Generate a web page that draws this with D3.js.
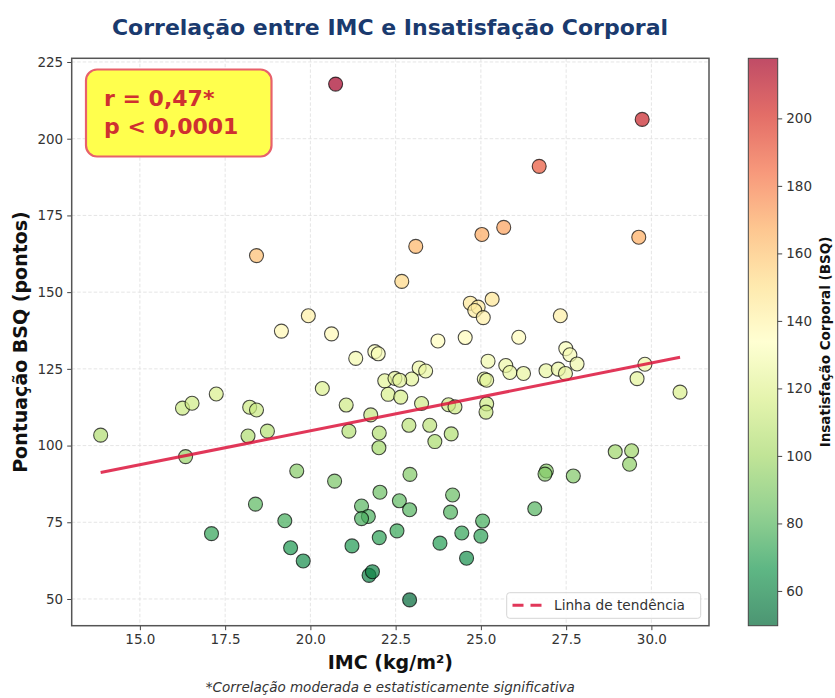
<!DOCTYPE html>
<html>
<head>
<meta charset="utf-8">
<script src="https://cdn.jsdelivr.net/npm/d3@7"></script>
<style>
  html, body { margin: 0; padding: 0; background: #fff; }
  svg { display: block; font-family: "DejaVu Sans", sans-serif; }
</style>
</head>
<body>
<svg id="chart" width="835" height="698"></svg>
<script>
// ---------------- DATA ----------------
const imc = [13.85,16.25,16.53,17.24,16.34,18.22,18.42,18.17,18.74,19.15,19.94,20.62,21.33,21.89,21.99,22.18,22.28,20.35,21.05,21.77,21.13,22.02,22.01,19.60,20.71,22.04,18.39,21.50,21.70,21.50,19.25,17.10,22.02,21.22,19.42,19.79,21.72,21.82,20.74,18.42,29.73,26.71,25.67,25.03,23.09,29.63,22.68,24.69,24.92,24.82,25.07,25.33,27.33,23.74,24.54,26.11,27.49,27.61,27.82,25.21,25.73,25.85,26.25,26.91,27.27,27.48,25.10,25.17,29.81,29.58,30.84,23.19,23.38,22.97,22.48,22.62,22.65,23.26,24.05,24.24,25.17,25.15,22.89,23.50,24.13,23.65,28.94,29.42,29.36,26.92,26.88,27.71,22.92,24.17,22.61,22.91,24.11,26.58,25.05,25.00,24.44,23.80,22.54,24.58,22.91];
const bsq = [103.4,112.2,113.8,116.8,96.4,112.5,111.6,103.1,104.7,137.3,142.3,136.4,128.4,130.6,129.9,121.1,116.7,118.6,113.2,110.0,104.7,104.1,99.3,91.7,88.4,84.8,80.9,80.3,76.9,76.2,75.5,71.3,70.0,67.3,66.7,62.4,57.7,58.9,217.8,161.9,206.3,191.0,171.1,168.8,164.9,167.9,153.5,146.4,145.1,144.0,141.7,147.7,142.3,134.1,135.2,135.3,131.6,129.6,126.6,127.5,126.1,123.8,123.5,124.4,124.9,123.5,121.7,121.3,126.5,121.8,117.4,125.3,124.3,121.7,121.9,121.3,115.8,113.7,113.3,112.6,113.6,110.9,106.6,106.6,103.8,101.3,98.0,98.3,93.9,91.7,90.7,90.1,90.6,83.9,82.0,79.1,78.3,79.4,75.4,70.5,71.5,68.2,72.2,63.3,49.7];
const xTickValues = [15, 17.5, 20, 22.5, 25, 27.5, 30];
const yTickValues = [50, 75, 100, 125, 150, 175, 200, 225];
const cbTickValues = [60, 80, 100, 120, 140, 160, 180, 200];
const trendSlope = 2.21;
const trendIntercept = 60.6;
const statLines = ["r = 0,47*", "p < 0,0001"];
const titleText = "Correlação entre IMC e Insatisfação Corporal";
const xLabelText = "IMC (kg/m²)";
const yLabelText = "Pontuação BSQ (pontos)";
const cbLabelText = "Insatisfação Corporal (BSQ)";
const legendText = "Linha de tendência";
const footnoteText = "*Correlação moderada e estatisticamente significativa";

// ---------------- LAYOUT ----------------
const svg = d3.select("#chart");
const L = 71.7, R = 709, T = 58.3, B = 625.7;
const cbL = 748.3, cbR = 777.7;

const data = imc.map((v, i) => ({ x: v, y: bsq[i] }));
const pad = (ext) => { const r = ext[1] - ext[0]; return [ext[0] - 0.05 * r, ext[1] + 0.05 * r]; };
const x = d3.scaleLinear().domain(pad(d3.extent(imc))).range([L, R]);
const y = d3.scaleLinear().domain(pad(d3.extent(bsq))).range([B, T]);

// RdYlGn_r colormap (matplotlib-like linear segments)
const rdylgn = d3.piecewise(d3.interpolateRgb, d3.schemeRdYlGn[11]);
const cExt = d3.extent(bsq);
const cNorm = d3.scaleLinear().domain(cExt).range([0, 1]).clamp(true);
const color = v => rdylgn(1 - cNorm(v));

// grid
const grid = svg.append("g");
grid.selectAll("line.gx").data(xTickValues).join("line")
  .attr("x1", d => x(d)).attr("x2", d => x(d)).attr("y1", T).attr("y2", B)
  .attr("stroke", "#e2e2e2").attr("stroke-width", 0.9).attr("stroke-dasharray", "3.5,2");
grid.selectAll("line.gy").data(yTickValues).join("line")
  .attr("y1", d => y(d)).attr("y2", d => y(d)).attr("x1", L).attr("x2", R)
  .attr("stroke", "#e2e2e2").attr("stroke-width", 0.9).attr("stroke-dasharray", "3.5,2");

// axes
const xAxis = d3.axisBottom(x).tickValues(xTickValues).tickFormat(d3.format(".1f")).tickSize(4.5).tickPadding(4);
const yAxis = d3.axisLeft(y).tickValues(yTickValues).tickFormat(d3.format("d")).tickSize(4.5).tickPadding(4);
const gx = svg.append("g").attr("transform", `translate(0,${B})`).call(xAxis);
const gy = svg.append("g").attr("transform", `translate(${L},0)`).call(yAxis);
[gx, gy].forEach(g => {
  g.select(".domain").remove();
  g.selectAll(".tick line").attr("stroke", "#444").attr("stroke-width", 1);
  g.selectAll(".tick text").attr("fill", "#333").style("font-size", "13.5px").style("font-family", "DejaVu Sans");
});

// points
svg.append("g").selectAll("circle").data(data).join("circle")
  .attr("cx", d => x(d.x)).attr("cy", d => y(d.y)).attr("r", 7)
  .attr("fill", d => color(d.y)).attr("fill-opacity", 0.7)
  .attr("stroke", "#000").attr("stroke-opacity", 0.7).attr("stroke-width", 1.1);

// trend line
const tx = d3.extent(imc);
svg.append("line")
  .attr("x1", x(tx[0])).attr("y1", y(trendIntercept + trendSlope * tx[0]))
  .attr("x2", x(tx[1])).attr("y2", y(trendIntercept + trendSlope * tx[1]))
  .attr("stroke", "#dc143c").attr("stroke-opacity", 0.85).attr("stroke-width", 3);

// frame
svg.append("rect").attr("x", L).attr("y", T).attr("width", R - L).attr("height", B - T)
  .attr("fill", "none").attr("stroke", "#555").attr("stroke-width", 1.5);

// annotation box
const ann = svg.append("g");
ann.append("rect").attr("x", 86).attr("y", 69.5).attr("width", 185.5).attr("height", 87)
  .attr("rx", 11).attr("fill", "#ffff4d").attr("stroke", "#e8616b").attr("stroke-width", 2.2);
ann.selectAll("text").data(statLines).join("text")
  .attr("x", 104).attr("y", (d, i) => 105.5 + i * 28.5)
  .attr("fill", "#cf3030").style("font-size", "22px").style("font-weight", "bold")
  .text(d => d);

// legend
const lg = svg.append("g");
lg.append("rect").attr("x", 506.7).attr("y", 592.7).attr("width", 194).attr("height", 25.6)
  .attr("rx", 3).attr("fill", "#fff").attr("fill-opacity", 0.85).attr("stroke", "#d5d5d5");
lg.append("line").attr("x1", 512.5).attr("x2", 542).attr("y1", 605.2).attr("y2", 605.2)
  .attr("stroke", "#dc143c").attr("stroke-opacity", 0.85).attr("stroke-width", 3).attr("stroke-dasharray", "11,7");
lg.append("text").attr("x", 554).attr("y", 610.3).attr("fill", "#333")
  .style("font-size", "13.7px").text(legendText);

// colorbar
const defs = svg.append("defs");
const grad = defs.append("linearGradient").attr("id", "cbgrad").attr("x1", 0).attr("y1", 1).attr("x2", 0).attr("y2", 0);
d3.range(0, 1.0001, 0.02).forEach(t => {
  grad.append("stop").attr("offset", t).attr("stop-color", rdylgn(1 - t));
});
const cbY = d3.scaleLinear().domain(cExt).range([B, T]);
svg.append("rect").attr("x", cbL).attr("y", T).attr("width", cbR - cbL).attr("height", B - T)
  .attr("fill", "url(#cbgrad)").attr("fill-opacity", 0.7);
svg.append("rect").attr("x", cbL).attr("y", T).attr("width", cbR - cbL).attr("height", B - T)
  .attr("fill", "none").attr("stroke", "#444").attr("stroke-width", 1);
const cbAxis = d3.axisRight(cbY).tickValues(cbTickValues).tickFormat(d3.format("d")).tickSize(4.5).tickPadding(4);
const gcb = svg.append("g").attr("transform", `translate(${cbR},0)`).call(cbAxis);
gcb.select(".domain").remove();
gcb.selectAll(".tick line").attr("stroke", "#444");
gcb.selectAll(".tick text").attr("fill", "#333").style("font-size", "13.5px").style("font-family", "DejaVu Sans");

// labels
svg.append("text").attr("x", 390).attr("y", 35).attr("text-anchor", "middle")
  .attr("fill", "#1a3a6e").style("font-size", "22px").style("font-weight", "bold").text(titleText);
svg.append("text").attr("x", (L + R) / 2).attr("y", 669).attr("text-anchor", "middle")
  .attr("fill", "#111").style("font-size", "19px").style("font-weight", "bold").text(xLabelText);
svg.append("text").attr("transform", `translate(27,${(T + B) / 2}) rotate(-90)`).attr("text-anchor", "middle")
  .attr("fill", "#111").style("font-size", "19px").style("font-weight", "bold").text(yLabelText);
svg.append("text").attr("transform", `translate(830,${(T + B) / 2}) rotate(-90)`).attr("text-anchor", "middle")
  .attr("fill", "#111").style("font-size", "13.5px").style("font-weight", "bold").text(cbLabelText);
svg.append("text").attr("x", (L + R) / 2).attr("y", 692).attr("text-anchor", "middle")
  .attr("fill", "#333").style("font-size", "13.5px").style("font-style", "italic").text(footnoteText);
</script>
</body>
</html>
